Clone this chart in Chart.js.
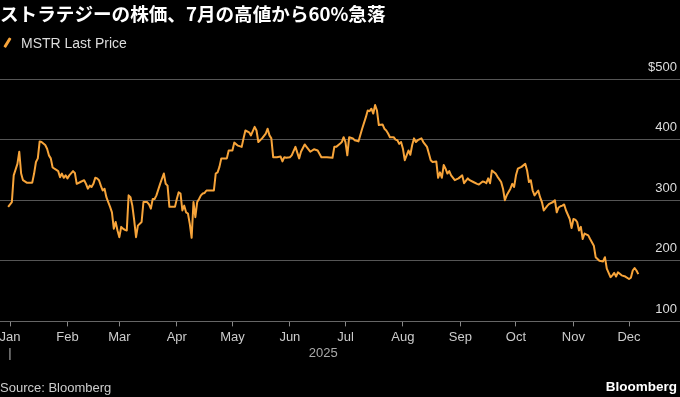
<!DOCTYPE html>
<html>
<head>
<meta charset="utf-8">
<script src="https://cdn.jsdelivr.net/npm/chart.js@4.4.1/dist/chart.umd.min.js"></script>
<style>
html,body{margin:0;padding:0;background:#000;width:680px;height:397px;overflow:hidden;}
canvas{position:absolute;left:0;top:0;}
.t{position:absolute;white-space:nowrap;line-height:1;}
#title{left:0;top:4px;font-weight:bold;font-size:18.6px;font-family:"Noto Sans CJK JP",sans-serif;color:#fff;}
#legendText{left:21px;top:36px;font-size:14px;font-family:"Liberation Sans",sans-serif;color:#ddd;}
#swatch{position:absolute;left:6px;top:37px;width:2.5px;height:11px;background:#f7a43a;transform:rotate(32deg);border-radius:1px;}
#source{left:0;top:381px;font-size:13px;font-family:"Liberation Sans",sans-serif;color:#ccc;}
#brand{right:3px;top:380px;font-size:13.5px;font-weight:bold;font-family:"Liberation Sans",sans-serif;color:#fff;}
</style>
</head>
<body>
<canvas id="c" width="680" height="397"></canvas>
<div class="t" id="title">ストラテジーの株価、7月の高値から60%急落</div>
<div id="swatch"></div>
<div class="t" id="legendText">MSTR Last Price</div>
<div class="t" id="source">Source: Bloomberg</div>
<div class="t" id="brand">Bloomberg</div>
<script>
// ---- data ----
const seriesName = 'MSTR Last Price';
const yearLabel = '2025';
const monthLabels = ['Jan','Feb','Mar','Apr','May','Jun','Jul','Aug','Sep','Oct','Nov','Dec'];
const monthStarts = ['2025-01-01','2025-02-01','2025-03-01','2025-04-01','2025-05-01','2025-06-01',
                     '2025-07-01','2025-08-01','2025-09-01','2025-10-01','2025-11-01','2025-12-01'];
const yTicks = [100,200,300,400,500];

const dates = [
'2024-12-31','2025-01-02','2025-01-03','2025-01-05','2025-01-06','2025-01-07','2025-01-08','2025-01-10',
'2025-01-13','2025-01-14','2025-01-15','2025-01-16','2025-01-17','2025-01-18','2025-01-20','2025-01-21',
'2025-01-22','2025-01-23','2025-01-24','2025-01-26','2025-01-27','2025-01-28','2025-01-29','2025-01-30',
'2025-01-31','2025-02-01','2025-02-02','2025-02-04','2025-02-05','2025-02-06','2025-02-08','2025-02-10',
'2025-02-11','2025-02-12','2025-02-13','2025-02-14','2025-02-15','2025-02-16','2025-02-17','2025-02-18',
'2025-02-19','2025-02-20','2025-02-21','2025-02-22','2025-02-23','2025-02-24','2025-02-25','2025-02-26',
'2025-02-27','2025-02-28','2025-03-01','2025-03-02','2025-03-03','2025-03-04','2025-03-05','2025-03-06',
'2025-03-07','2025-03-08','2025-03-09','2025-03-10','2025-03-11','2025-03-13','2025-03-14','2025-03-16',
'2025-03-17','2025-03-18','2025-03-19','2025-03-20','2025-03-21','2025-03-23','2025-03-25','2025-03-26',
'2025-03-27','2025-03-28','2025-03-31','2025-04-01','2025-04-02','2025-04-03','2025-04-04','2025-04-05',
'2025-04-06','2025-04-07','2025-04-08','2025-04-09','2025-04-10','2025-04-11','2025-04-12','2025-04-13',
'2025-04-14','2025-04-15','2025-04-16','2025-04-17','2025-04-21','2025-04-22','2025-04-23','2025-04-24',
'2025-04-25','2025-04-28','2025-04-29','2025-05-01','2025-05-02','2025-05-04','2025-05-06','2025-05-07',
'2025-05-08','2025-05-10','2025-05-11','2025-05-13','2025-05-14','2025-05-15','2025-05-17','2025-05-19',
'2025-05-20','2025-05-21','2025-05-22','2025-05-23','2025-05-25','2025-05-27','2025-05-28','2025-05-29',
'2025-05-30','2025-06-01','2025-06-02','2025-06-04','2025-06-06','2025-06-07','2025-06-09','2025-06-10',
'2025-06-12','2025-06-14','2025-06-16','2025-06-18','2025-06-21','2025-06-24','2025-06-25','2025-06-26',
'2025-06-28','2025-06-29','2025-06-30','2025-07-01','2025-07-02','2025-07-03','2025-07-05','2025-07-06',
'2025-07-08','2025-07-10','2025-07-12','2025-07-13','2025-07-14','2025-07-15','2025-07-16','2025-07-17',
'2025-07-18','2025-07-19','2025-07-21','2025-07-22','2025-07-23','2025-07-24','2025-07-25','2025-07-27',
'2025-07-28','2025-07-29','2025-07-30','2025-07-31','2025-08-01','2025-08-02','2025-08-03','2025-08-04',
'2025-08-05','2025-08-06','2025-08-07','2025-08-08','2025-08-09','2025-08-11','2025-08-12','2025-08-14',
'2025-08-15','2025-08-16','2025-08-17','2025-08-19','2025-08-20','2025-08-21','2025-08-22','2025-08-23',
'2025-08-24','2025-08-25','2025-08-26','2025-08-27','2025-08-29','2025-08-31','2025-09-02','2025-09-03',
'2025-09-05','2025-09-06','2025-09-08','2025-09-10','2025-09-11','2025-09-13','2025-09-14','2025-09-15',
'2025-09-16','2025-09-17','2025-09-18','2025-09-20','2025-09-21','2025-09-23','2025-09-24','2025-09-25',
'2025-09-26','2025-09-28','2025-09-29','2025-09-30','2025-10-01','2025-10-02','2025-10-04','2025-10-06',
'2025-10-07','2025-10-08','2025-10-09','2025-10-10','2025-10-11','2025-10-13','2025-10-14','2025-10-15',
'2025-10-16','2025-10-18','2025-10-19','2025-10-21','2025-10-22','2025-10-23','2025-10-24','2025-10-25',
'2025-10-26','2025-10-27','2025-10-28','2025-10-30','2025-10-31','2025-11-01','2025-11-02','2025-11-03',
'2025-11-04','2025-11-05','2025-11-06','2025-11-07','2025-11-09','2025-11-10','2025-11-12','2025-11-13',
'2025-11-15','2025-11-17','2025-11-18','2025-11-19','2025-11-21','2025-11-22','2025-11-23','2025-11-24',
'2025-11-25','2025-11-27','2025-11-29','2025-12-01','2025-12-02','2025-12-03','2025-12-04','2025-12-05',
'2025-12-06'
];
const prices = [
289,297,341,360,380,344,333,329,
329,344,363,369,397,396,391,385,
374,369,354,350,348,338,344,337,
341,336,341,348,345,327,330,333,
327,319,324,322,327,337,336,333,
324,316,319,305,297,289,280,253,
264,250,239,256,253,251,250,308,
305,291,267,239,258,264,297,297,
293,286,302,302,308,327,344,327,
324,289,289,302,313,311,283,291,
280,278,261,238,297,272,297,302,
308,311,312,316,316,344,346,355,
369,369,382,382,395,390,388,402,
415,412,407,421,415,396,402,410,
418,407,402,371,371,372,364,371,
370,371,374,388,369,380,392,388,
380,384,382,371,371,370,388,388,
393,396,404,396,374,404,402,399,
397,418,437,448,447,451,443,457,
448,424,425,418,415,410,404,404,
400,399,393,396,385,366,374,382,
375,391,402,396,399,402,396,388,
377,366,363,364,337,346,337,358,
352,344,348,341,333,336,341,328,
336,333,330,327,326,331,330,328,
336,328,349,344,339,330,319,300,
308,319,327,322,341,352,355,360,
349,330,333,316,308,316,305,297,
283,291,294,297,300,280,288,290,
291,293,283,269,254,269,268,264,
250,256,236,245,242,236,225,206,
200,199,206,187,173,176,180,174,
181,176,174,170,172,184,188,184,
178
];

function dayNum(s){
  const p = s.split('-').map(Number);
  return (Date.UTC(p[0],p[1]-1,p[2]) - Date.UTC(2025,0,1)) / 86400000;
}

const points = dates.map((d,i)=>({x:dayNum(d), y:prices[i]}));

const yearPlugin = {
  id:'yearLabel',
  afterDraw(chart){
    const ctx = chart.ctx, xs = chart.scales.x;
    const first = xs.getPixelForValue(points[0].x);
    const last = xs.getPixelForValue(points[points.length-1].x);
    const jan = xs.getPixelForValue(dayNum(monthStarts[0]));
    ctx.save();
    ctx.fillStyle = '#aaa';
    ctx.font = '13px "Liberation Sans"';
    ctx.textBaseline = 'middle';
    ctx.textAlign = 'center';
    ctx.fillText('|', jan, 353);
    ctx.fillText(yearLabel, (first+last)/2, 353);
    ctx.restore();
  }
};

new Chart(document.getElementById('c'), {
  type:'line',
  data:{datasets:[{
    label: seriesName,
    data: points,
    borderColor:'#f7a43a',
    borderWidth:2,
    pointRadius:0,
    tension:0,
    borderJoinStyle:'round',
    fill:false
  }]},
  options:{
    responsive:false,
    animation:false,
    layout:{padding:{top:79,bottom:49,left:0,right:0}},
    plugins:{legend:{display:false}, tooltip:{enabled:false}, title:{display:false}},
    scales:{
      x:{
        type:'linear',
        min:-5.4, max:361.5,
        afterBuildTicks(s){ s.ticks = monthStarts.map(d=>({value:dayNum(d)})); },
        afterFit(s){ s.paddingLeft = 0; s.paddingRight = 0; },
        ticks:{autoSkip:false, maxRotation:0, color:'#ccc', padding:3,
               font:{family:'"Liberation Sans"', size:13},
               callback:(v,i)=>monthLabels[i]},
        grid:{display:true, drawOnChartArea:false, drawTicks:true, tickLength:5, color:'#888'},
        border:{display:true, color:'#666'}
      },
      y:{
        position:'right',
        min:100, max:500,
        afterBuildTicks(s){ s.ticks = yTicks.map(v=>({value:v})); },
        afterFit(s){ s.width = 0; },
        ticks:{mirror:true, labelOffset:-12, padding:-3, color:'#ddd',
               font:{family:'"Liberation Sans"', size:13},
               callback:v=> v===500 ? '$'+v : String(v)},
        grid:{color:'#555', drawTicks:false},
        border:{display:false}
      }
    }
  },
  plugins:[yearPlugin]
});
</script>
</body>
</html>
